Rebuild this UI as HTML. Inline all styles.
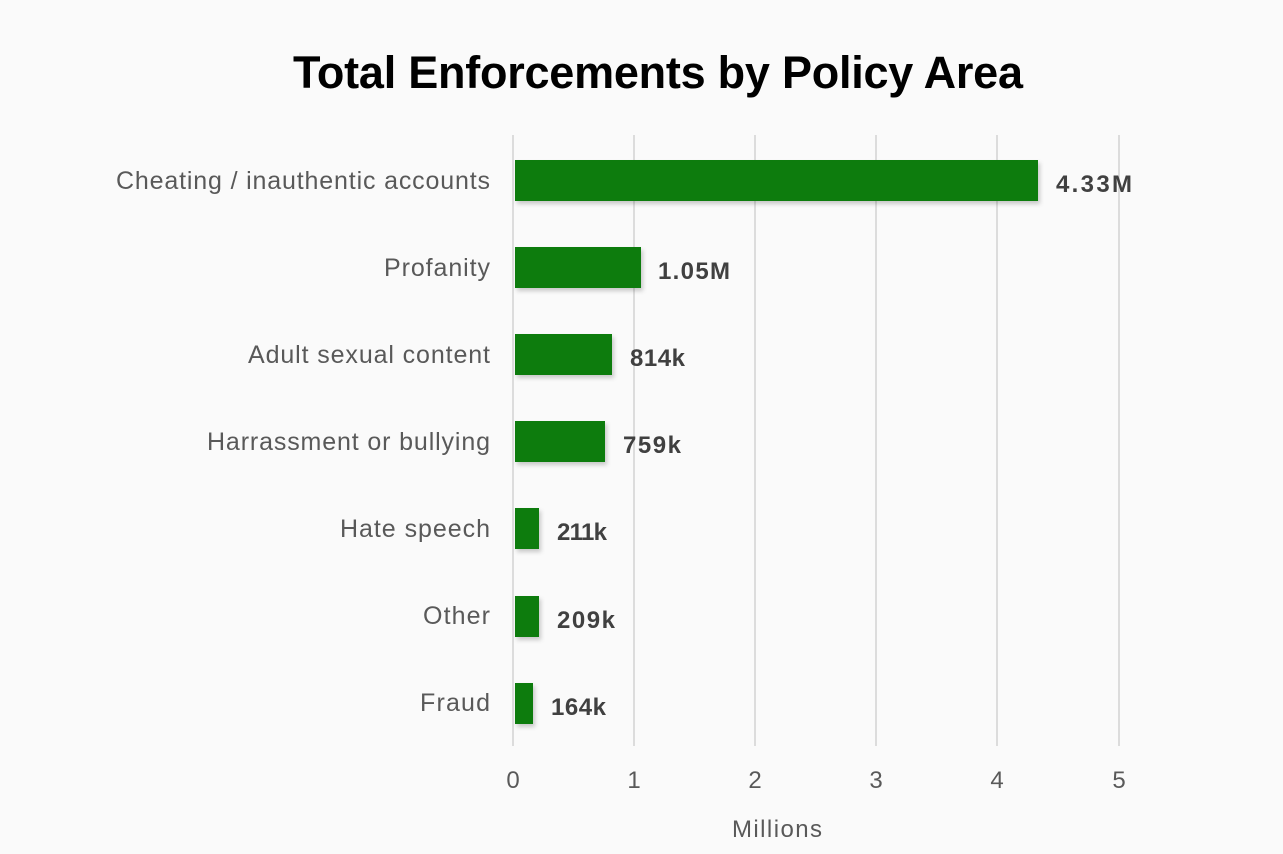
<!DOCTYPE html>
<html><head><style>
html,body{margin:0;padding:0;background:#fafafa;}
svg{display:block;}
</style></head><body>
<svg width="1283" height="854" xmlns="http://www.w3.org/2000/svg">
<defs><filter id="s" x="-5%" y="-20%" width="110%" height="150%"><feDropShadow dx="2" dy="3" stdDeviation="2" flood-color="#000" flood-opacity="0.2"/></filter></defs>
<rect width="1283" height="854" fill="#fafafa"/>
<text x="293" y="88" textLength="730" font-family="Liberation Sans, sans-serif" font-weight="bold" font-size="45" fill="#000">Total Enforcements by Policy Area</text>
<g stroke="#dcdcdc" stroke-width="2">
<line x1="513" y1="135" x2="513" y2="746"/>
<line x1="634" y1="135" x2="634" y2="746"/>
<line x1="755" y1="135" x2="755" y2="746"/>
<line x1="876" y1="135" x2="876" y2="746"/>
<line x1="997" y1="135" x2="997" y2="746"/>
<line x1="1119" y1="135" x2="1119" y2="746"/>
</g>
<g fill="#107c10" filter="url(#s)">
<rect x="515" y="160" width="523" height="41"/>
<rect x="515" y="247" width="126" height="41"/>
<rect x="515" y="334" width="97" height="41"/>
<rect x="515" y="421" width="90" height="41"/>
<rect x="515" y="508" width="24" height="41"/>
<rect x="515" y="596" width="24" height="41"/>
<rect x="515" y="683" width="18" height="41"/>
</g>
<g font-family="Liberation Sans, sans-serif" font-size="25" fill="#595959" text-anchor="end">
<text x="490" y="189" textLength="374">Cheating / inauthentic accounts</text>
<text x="490" y="276" textLength="106">Profanity</text>
<text x="490" y="363" textLength="242">Adult sexual content</text>
<text x="490" y="450" textLength="283">Harrassment or bullying</text>
<text x="490" y="537" textLength="150">Hate speech</text>
<text x="490" y="624" textLength="67">Other</text>
<text x="490" y="711" textLength="70">Fraud</text>
</g>
<g font-family="Liberation Sans, sans-serif" font-size="24" font-weight="bold" fill="#404040">
<text x="1056" y="192" textLength="76">4.33M</text>
<text x="658" y="279" textLength="72">1.05M</text>
<text x="630" y="366" textLength="55">814k</text>
<text x="623" y="453" textLength="58">759k</text>
<text x="557" y="540" textLength="50">211k</text>
<text x="557" y="628" textLength="58">209k</text>
<text x="551" y="715" textLength="55">164k</text>
</g>
<g font-family="Liberation Sans, sans-serif" font-size="24" fill="#595959" text-anchor="middle">
<text x="513" y="788">0</text>
<text x="634" y="788">1</text>
<text x="755" y="788">2</text>
<text x="876" y="788">3</text>
<text x="997" y="788">4</text>
<text x="1119" y="788">5</text>
<text x="777" y="837" textLength="90">Millions</text>
</g>
</svg>
</body></html>
